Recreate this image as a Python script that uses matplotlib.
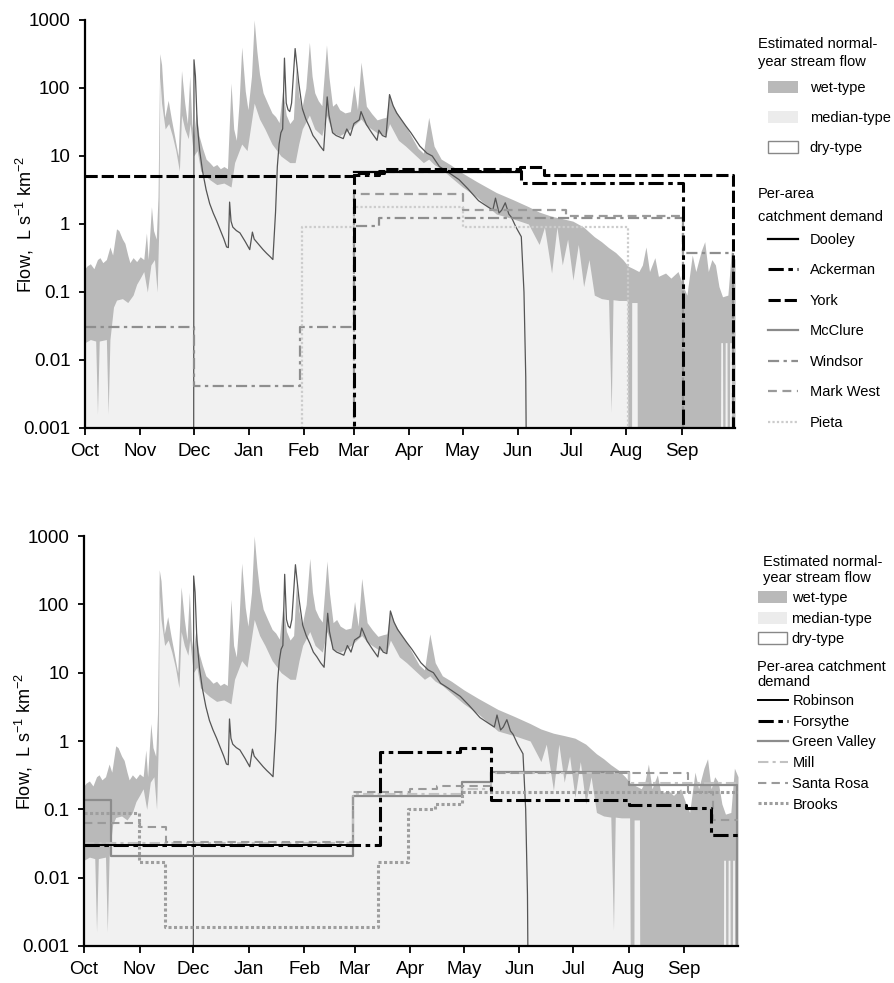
import matplotlib
matplotlib.use('Agg')
import matplotlib.pyplot as plt
from matplotlib.lines import Line2D
from matplotlib.patches import Patch
from matplotlib.ticker import NullLocator

plt.rcParams['font.family'] = ['Liberation Sans', 'DejaVu Sans']
plt.rcParams['mathtext.fontset'] = 'custom'
plt.rcParams['mathtext.rm'] = 'Liberation Sans'
plt.rcParams['mathtext.default'] = 'regular'

FLOOR = 1e-4  # zero flow / zero demand (falls below the axis)

# water-year day (0 = 1 Oct)
month_days = [0, 31, 61, 92, 123, 151, 182, 212, 243, 273, 304, 335]
month_labels = ['Oct', 'Nov', 'Dec', 'Jan', 'Feb', 'Mar', 'Apr', 'May', 'Jun', 'Jul', 'Aug', 'Sep']
ytick_vals = [1e-3, 1e-2, 1e-1, 1, 10, 100, 1000]
ytick_labels = ['0.001', '0.01', '0.1', '1', '10', '100', '1000']

# estimated normal-year stream flow, L s-1 km-2  (day, flow)
wet_type = [(0, 0.22), (1, 0.24), (3, 0.26), (5, 0.22), (7, 0.3), (8.4, 0.32), (10, 0.27), (12, 0.3),
            (14, 0.46), (15.5, 0.35), (17.7, 0.85), (19, 0.8), (21, 0.6), (22.4, 0.52), (24, 0.35),
            (25.2, 0.27), (27, 0.32), (29, 0.28), (31, 0.33), (33, 0.3), (34.5, 0.74), (35.5, 0.3),
            (37.3, 1.8), (38.5, 0.8), (40, 0.6), (41, 2.5), (42, 320), (43, 220), (44.8, 37), (46.7, 66),
            (48.5, 35), (50.4, 19), (52.3, 10), (54.2, 180), (56, 60), (57.5, 30), (58.8, 150), (60, 30),
            (61, 20), (62.5, 45), (64, 20), (66, 13), (68, 9), (70, 8), (72, 7), (74, 7.5), (76, 6.5),
            (78, 7), (80, 6.5), (82, 118), (83.5, 25), (85, 17), (86.5, 60), (88, 400), (90, 90),
            (91.5, 48), (93.5, 150), (95, 1000), (96.5, 350), (98, 160), (100, 85), (102.5, 60), (105, 43),
            (107, 38), (109, 31), (111, 94), (113, 40), (115, 30), (117, 35), (118.5, 200), (120, 80),
            (121.6, 48), (124, 100), (126, 470), (127.5, 150), (129, 85), (131, 65), (133, 55),
            (135.6, 430), (137, 145), (139, 54), (141, 60), (143, 48), (146, 43), (149, 45), (151, 110),
            (153, 48), (155, 240), (158, 54), (161, 42), (164, 34), (167, 36), (169, 37), (171, 80),
            (173, 55), (176, 40), (180, 28), (184, 18), (187, 13), (190, 11), (193, 37), (196, 14),
            (200, 9), (205, 7.5), (212, 5.6), (220, 4.2), (231, 2.9), (240, 2.3), (249, 1.8), (255, 1.5),
            (262, 1.3), (268, 1.2), (274, 1.1), (280, 0.9), (286, 0.65), (290, 0.55), (294, 0.45),
            (298, 0.38), (302, 0.3), (305, 0.24), (308, 0.22), (311, 0.2), (313, 0.25), (315, 0.46),
            (317, 0.2), (320, 0.32), (322, 0.17), (326, 0.19), (329, 0.16), (333, 0.2), (336, 0.12),
            (338, 0.09), (341, 0.35), (343, 0.2), (346, 0.4), (348, 0.55), (350, 0.2), (352, 0.3),
            (354, 0.25), (356, 0.12), (358, 0.085), (361, 0.09), (363, 0.4), (365, 0.3)]

median_type = [(0, 0.018), (3, 0.02), (6, 0.019), (7, 0.0016), (8, 0.019), (12, 0.02), (13, 0.0016),
               (14, 0.02), (16, 0.06), (17.7, 0.076), (21, 0.08), (24, 0.07), (27, 0.09), (29, 0.13),
               (31, 0.16), (33, 0.2), (35, 0.1), (37, 0.25), (39, 0.3), (40.5, 0.1), (41.5, 1.0), (42, 150),
               (43, 60), (45, 25), (47, 30), (49, 20), (51, 12), (53, 6), (54.2, 40), (56, 25), (58, 18),
               (59, 30), (61, 10), (63, 12), (65, 6), (68, 5), (70, 4.5), (74, 3.8), (78, 4), (82, 3.5),
               (84, 8), (88, 15), (91, 12), (95, 60), (98, 35), (101, 25), (105, 15), (110, 10), (115, 8),
               (118, 8), (120, 15), (122, 25), (126, 40), (129, 25), (133, 20), (135.6, 40), (139, 22),
               (143, 20), (146, 22), (149, 25), (151, 28), (155, 35), (158, 28), (164, 22), (169, 20),
               (171, 30), (176, 17), (180, 14), (186, 10), (190, 8), (193, 9), (196, 7.5), (200, 6.5),
               (205, 5), (212, 3.5), (220, 2.5), (231, 1.4), (240, 1.2), (249, 1.0), (255, 0.5), (258, 0.9),
               (262, 0.19), (265, 0.9), (268, 0.25), (271, 0.6), (274, 0.15), (277, 0.5), (280, 0.12),
               (283, 0.3), (286, 0.09), (290, 0.08), (294, 0.077), (295.5, 0.0017), (296.5, 0.077),
               (300, 0.075), (304.5, 0.075), (305, FLOOR), (306.9, FLOOR), (307, 0.07), (310, 0.07),
               (310.2, FLOOR), (356.8, FLOOR), (357, 0.018), (358, 0.018), (358.2, FLOOR), (359.3, FLOOR),
               (359.5, 0.018), (360.5, 0.018), (360.7, FLOOR), (361.8, FLOOR), (362, 0.018), (363, 0.018),
               (363.2, FLOOR), (365, FLOOR)]

dry_type = [(0, FLOOR), (61, FLOOR), (61.2, 260), (62, 150), (63, 30), (64.4, 12), (66, 6), (68, 3.2),
            (70, 2.0), (72, 1.45), (74, 1.1), (76, 0.81), (78, 0.6), (79.5, 0.46), (80.5, 0.45), (81.2, 2.1),
            (82, 1.1), (83, 0.9), (85, 0.8), (87, 0.74), (90, 0.55), (92.5, 0.42), (94, 0.76), (95, 0.6),
            (97, 0.52), (100, 0.42), (102, 0.37), (104, 0.33), (105.5, 0.3), (107, 1.5), (108, 7), (109, 15),
            (110, 22), (111, 25), (112, 275), (113, 60), (114, 48), (115, 45), (116, 60), (118, 380),
            (120, 120), (122, 50), (124, 35), (126, 27), (128, 20), (130, 17), (132, 14), (134, 12),
            (136, 74), (137, 40), (139, 22), (141, 20), (143, 19), (145, 18), (147, 25), (149, 20),
            (151, 30), (154, 34), (155, 45), (158, 29), (161, 22), (164, 17), (165, 24), (167, 20),
            (169, 19), (171, 80), (173, 55), (175, 43), (180, 28), (183, 22), (188, 14), (192, 11),
            (195, 10), (199, 7), (203, 6), (210, 4.5), (215, 3.3), (221, 2.2), (226, 1.8), (229, 1.6),
            (230.5, 2.4), (232.5, 1.45), (234, 1.6), (236, 2.05), (238, 1.4), (239.5, 1.25), (242, 0.9),
            (245, 0.65), (246.5, 0.1), (247.5, 0.0056), (248, FLOOR), (365, FLOOR)]

# per-area catchment demand, step values (day the step starts, demand)
dooley = [(151, 5.8), (245, 5.8)]
ackerman = [(0, FLOOR), (151, 5.3), (165, 6.0), (245, 4.0), (336, FLOOR), (365, FLOOR)]
york = [(0, 5.0), (151, 5.6), (168, 6.5), (244, 7.0), (258, 5.2), (364, FLOOR), (365, FLOOR)]
mcclure = [(0, FLOOR), (365, FLOOR)]
windsor = [(0, 0.031), (61, 0.0042), (121, 0.031), (151, 0.95), (165, 1.23), (336, 0.37), (364, FLOOR), (365, FLOOR)]
mark_west = [(0, FLOOR), (151, 2.8), (212, 1.6), (270, 1.3), (336, FLOOR), (365, FLOOR)]
pieta = [(0, FLOOR), (122, 0.9), (151, 1.8), (212, 0.9), (305, FLOOR), (365, FLOOR)]

robinson = [(0, 0.030), (150, 0.030)]
forsythe = [(0, 0.030), (165, 0.69), (210, 0.78), (227, 0.136), (304, 0.115), (336, 0.105), (350, 0.042), (365, 0.042)]
green_valley = [(0, 0.136), (15, 0.021), (150, 0.157), (211, 0.25), (227, 0.35), (304, 0.23), (364.5, FLOOR), (365, FLOOR)]
mill = [(0, 0.032), (150, 0.17), (211, 0.2), (227, 0.34), (304, 0.24), (365, 0.24)]
santa_rosa = [(0, 0.063), (31, 0.055), (46, 0.033), (150, 0.18), (182, 0.2), (197, 0.22), (227, 0.34),
              (337, 0.18), (351, 0.069), (365, 0.069)]
brooks = [(0, 0.088), (30.6, 0.017), (45, 0.0019), (164, 0.017), (181, 0.1), (196, 0.12), (211, 0.18), (365, 0.18)]

WET = '#b9b9b9'
MEDIAN = '#f1f1f1'
DRY = '#555555'

top_demand = [
    ('Dooley', dooley, dict(color='black', lw=1.6, ls='-')),
    ('Ackerman', ackerman, dict(color='black', lw=2.2, ls=(0, (5, 1.5, 1.5, 1.5)))),
    ('York', york, dict(color='black', lw=2.2, ls=(0, (4, 1.3)))),
    ('McClure', mcclure, dict(color='#8a8a8a', lw=1.6, ls='-')),
    ('Windsor', windsor, dict(color='#8e8e8e', lw=1.6, ls=(0, (5, 2, 1.5, 2)))),
    ('Mark West', mark_west, dict(color='#9a9a9a', lw=1.6, ls=(0, (4, 2.5)))),
    ('Pieta', pieta, dict(color='#cccccc', lw=1.6, ls=(0, (1, 1)))),
]
bottom_demand = [
    ('Robinson', robinson, dict(color='black', lw=1.4, ls='-')),
    ('Forsythe', forsythe, dict(color='black', lw=2.2, ls=(0, (5, 1.5, 1.5, 1.5)))),
    ('Green Valley', green_valley, dict(color='#8c8c8c', lw=1.6, ls='-')),
    ('Mill', mill, dict(color='#c2c2c2', lw=1.5, ls=(0, (5, 2, 1.5, 2)))),
    ('Santa Rosa', santa_rosa, dict(color='#9a9a9a', lw=1.5, ls=(0, (4, 2.5)))),
    ('Brooks', brooks, dict(color='#9e9e9e', lw=2.2, ls=(0, (1, 0.8)))),
]


def draw_panel(ax, demand, label_x):
    d, v = zip(*wet_type)
    ax.fill_between(d, FLOOR, v, color=WET, lw=0, zorder=1)
    d, v = zip(*median_type)
    ax.fill_between(d, FLOOR, v, color=MEDIAN, lw=0, zorder=1.1)
    d, v = zip(*dry_type)
    ax.plot(d, v, color=DRY, lw=0.9, zorder=1.5)

    # gray lines under the black ones
    for name, steps, style in sorted(demand, key=lambda s: s[2]['color'] == 'black'):
        d, v = zip(*steps)
        ax.step(d, v, where='post', zorder=2, **style)

    ax.set_yscale('log')
    ax.set_ylim(1e-3, 1e3)
    ax.set_xlim(0, 365)
    ax.set_yticks(ytick_vals)
    ax.set_yticklabels(ytick_labels)
    ax.yaxis.set_minor_locator(NullLocator())
    ax.set_xticks(month_days)
    ax.set_xticklabels(month_labels)
    for side in ['top', 'right']:
        ax.spines[side].set_visible(False)
    for side in ['left', 'bottom']:
        ax.spines[side].set_linewidth(1.6)
        ax.spines[side].set_zorder(3)
    ax.tick_params(axis='y', length=4.5, width=1.3, labelsize=13.5, pad=6)
    ax.tick_params(axis='x', length=4.8, width=1.3, labelsize=13.5, pad=6)
    ax.set_ylabel('Flow,  L s$^{-1}$ km$^{-2}$', fontsize=13)
    ax.yaxis.set_label_coords(label_x, 0.5)


def demand_handles(demand):
    return [Line2D([], [], **style) for name, steps, style in demand], [n for n, s, st in demand]


flow_handles = [Patch(facecolor=WET, edgecolor='none'),
                Patch(facecolor='#ececec', edgecolor='none'),
                Patch(facecolor='white', edgecolor='#888888', lw=1)]
flow_labels = ['wet-type', 'median-type', 'dry-type']

fig = plt.figure(figsize=(8.95, 9.83), dpi=100)
W, H = 895.0, 983.0

ax1 = fig.add_axes([85 / W, 1 - 428 / H, 650 / W, 408 / H])
draw_panel(ax1, top_demand, -0.075)
ax2 = fig.add_axes([84 / W, 1 - 946 / H, 654 / W, 410 / H])
draw_panel(ax2, bottom_demand, -0.075)

LFS = 10.5
# top panel legends
fig.text(758 / W, 1 - 44 / H, 'Estimated normal-', fontsize=LFS, va='center')
fig.text(758 / W, 1 - 62 / H, 'year stream flow', fontsize=LFS, va='center')
fig.legend(flow_handles, flow_labels, loc='upper left', bbox_to_anchor=(768 / W, 1 - 80.5 / H),
           frameon=False, fontsize=LFS, borderpad=0, borderaxespad=0, handlelength=2.05,
           handleheight=0.9, handletextpad=0.8, labelspacing=1.1)
fig.text(758 / W, 1 - 194 / H, 'Per-area', fontsize=LFS, va='center')
fig.text(758 / W, 1 - 217 / H, 'catchment demand', fontsize=LFS, va='center')
h, l = demand_handles(top_demand)
fig.legend(h, l, loc='upper left', bbox_to_anchor=(768 / W, 1 - 233 / H),
           frameon=False, fontsize=LFS, borderpad=0, borderaxespad=0, handlelength=2.05,
           handletextpad=0.8, labelspacing=1.13)

# bottom panel legends
fig.text(763 / W, 1 - 562 / H, 'Estimated normal-', fontsize=LFS, va='center')
fig.text(763 / W, 1 - 578 / H, 'year stream flow', fontsize=LFS, va='center')
fig.legend(flow_handles, flow_labels, loc='upper left', bbox_to_anchor=(758 / W, 1 - 591 / H),
           frameon=False, fontsize=LFS, borderpad=0, borderaxespad=0, handlelength=2.0,
           handleheight=0.9, handletextpad=0.3, labelspacing=0.45)
fig.text(757 / W, 1 - 667 / H, 'Per-area catchment', fontsize=LFS, va='center')
fig.text(757 / W, 1 - 682 / H, 'demand', fontsize=LFS, va='center')
h, l = demand_handles(bottom_demand)
fig.legend(h, l, loc='upper left', bbox_to_anchor=(758 / W, 1 - 694 / H),
           frameon=False, fontsize=LFS, borderpad=0, borderaxespad=0, handlelength=2.05,
           handletextpad=0.3, labelspacing=0.46)

fig.savefig('out.png', dpi=100, facecolor='white')
